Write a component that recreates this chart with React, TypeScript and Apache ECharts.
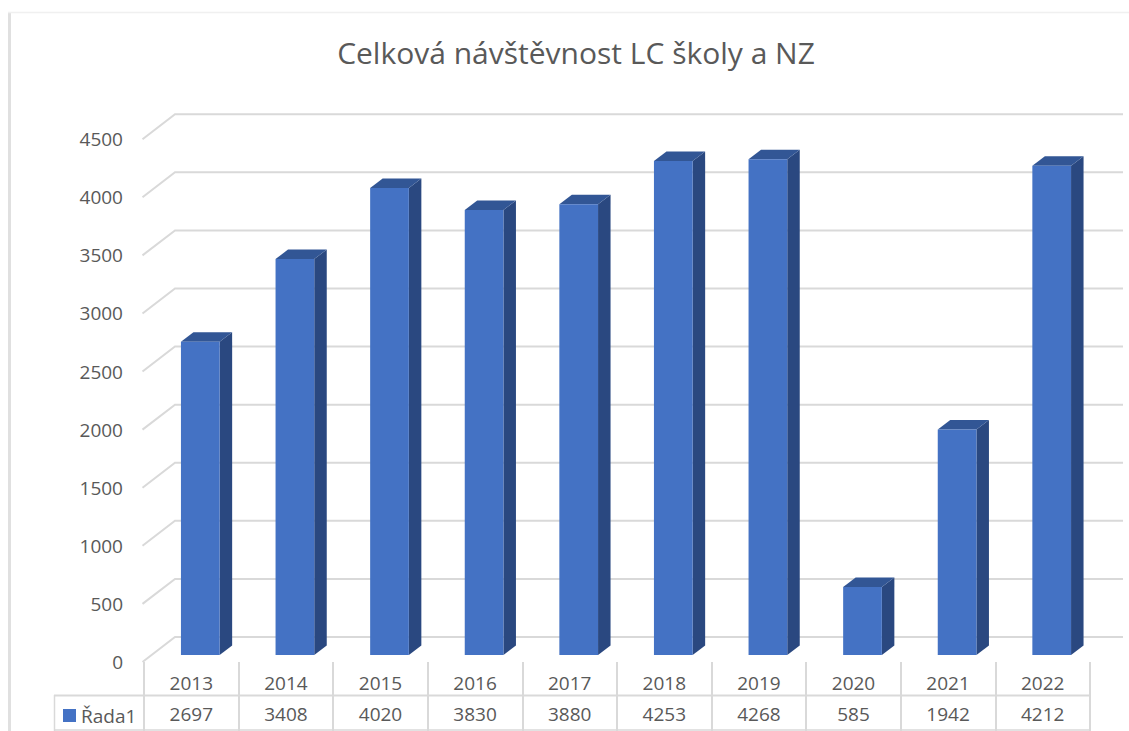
import React, { useEffect, useRef } from "react";
import * as echarts from "echarts";

const title = "Celková návštěvnost LC školy a NZ";
const seriesName = "Řada1";
const categories = ["2013", "2014", "2015", "2016", "2017", "2018", "2019", "2020", "2021", "2022"];
const values = [2697, 3408, 4020, 3830, 3880, 4253, 4268, 585, 1942, 4212];
const yTicks = [0, 500, 1000, 1500, 2000, 2500, 3000, 3500, 4000, 4500];

const FRONT = "#4472C4";
const SIDE = "#2A4880";
const TOP = "#325695";
const GRID = "#D9D9D9";
const TEXT = "#595959";
const FONT = "'Open Sans', sans-serif";

export default function App() {
  const ref = useRef<HTMLDivElement>(null);
  useEffect(() => {
    const chart = echarts.init(ref.current!, undefined, { renderer: "svg" });
    const barWidth = 38.7;
    const shiftX = 9;
    const floorLift = 7;
    const depthX = 12.5;
    const depthY = 9.5;
    chart.setOption({
      animation: false,
      backgroundColor: "#fff",
      title: {
        text: title,
        left: 576,
        top: 32,
        textAlign: "center",
        padding: [5, 5, 5, 0],
        textStyle: { color: TEXT, fontFamily: FONT, fontSize: 30, fontWeight: "normal" },
      },
      legend: {
        data: [seriesName],
        left: 63,
        top: 706,
        padding: 0,
        itemWidth: 13,
        itemHeight: 13,
        icon: "rect",
        textStyle: { color: TEXT, fontFamily: FONT, fontSize: 19 },
      },
      grid: { left: 144, right: 39, top: 139.2, bottom: 69 },
      xAxis: [
        {
          type: "category",
          data: categories,
          position: "bottom",
          axisLine: { show: false },
          axisTick: { show: true, length: 69, lineStyle: { color: GRID, width: 2 } },
          axisLabel: { color: TEXT, fontFamily: FONT, fontSize: 19, margin: 11 },
        },
        {
          type: "category",
          data: values.map(String),
          position: "bottom",
          offset: 31,
          axisLine: { show: false },
          axisTick: { show: false },
          axisLabel: { color: TEXT, fontFamily: FONT, fontSize: 19, margin: 11 },
        },
      ],
      yAxis: {
        type: "value",
        min: 0,
        max: 4500,
        interval: 500,
        axisLine: { show: false },
        axisTick: { show: false },
        splitLine: { show: false },
        axisLabel: { color: TEXT, fontFamily: FONT, fontSize: 19, margin: 21, formatter: (v: number) => String(v) },
      },
      graphic: [
        { type: "line", shape: { x1: 54, y1: 695.5, x2: 1090, y2: 695.5 }, style: { stroke: GRID, lineWidth: 2 } },
        { type: "line", shape: { x1: 54, y1: 730, x2: 1090, y2: 730 }, style: { stroke: GRID, lineWidth: 1.5 } },
        { type: "line", shape: { x1: 54.5, y1: 695, x2: 54.5, y2: 731 }, style: { stroke: GRID, lineWidth: 1.5 } },
        { type: "line", shape: { x1: 9.5, y1: 12, x2: 9.5, y2: 731 }, style: { stroke: "#E0E0E0", lineWidth: 3 } },
        { type: "line", shape: { x1: 8, y1: 12.5, x2: 1129, y2: 12.5 }, style: { stroke: "#F0F0F0", lineWidth: 1.5 } },
      ],
      series: [
        {
          type: "custom",
          name: "gridlines",
          silent: true,
          z: 1,
          data: yTicks.map((v) => [0, v]),
          renderItem: (_p: any, api: any) => {
            const y = api.coord([0, api.value(1)])[1];
            return {
              type: "polyline",
              shape: { points: [[142.5, y], [175, y - 25], [1123, y - 25]] },
              style: { stroke: GRID, lineWidth: 2, fill: "none" },
            };
          },
        },
        {
          type: "custom",
          name: seriesName,
          z: 2,
          itemStyle: { color: FRONT },
          data: values.map((v, i) => [i, v]),
          renderItem: (_p: any, api: any) => {
            const base = api.coord([api.value(0), 0]);
            const top = api.coord([api.value(0), api.value(1)]);
            const l = base[0] + shiftX - barWidth / 2;
            const r = l + barWidth;
            const b = base[1] - floorLift;
            const t = top[1] - floorLift;
            return {
              type: "group",
              children: [
                {
                  type: "polygon",
                  shape: { points: [[r, t], [r + depthX, t - depthY], [r + depthX, b - depthY], [r, b]] },
                  style: { fill: SIDE },
                },
                {
                  type: "polygon",
                  shape: { points: [[l, t], [l + depthX, t - depthY], [r + depthX, t - depthY], [r, t]] },
                  style: { fill: TOP },
                },
                { type: "rect", shape: { x: l, y: t, width: barWidth, height: b - t }, style: { fill: FRONT } },
              ],
            };
          },
        },
      ],
    });
    return () => chart.dispose();
  }, []);
  return <div ref={ref} style={{ position: "fixed", left: 0, top: 0, width: 1129, height: 731 }} />;
}
